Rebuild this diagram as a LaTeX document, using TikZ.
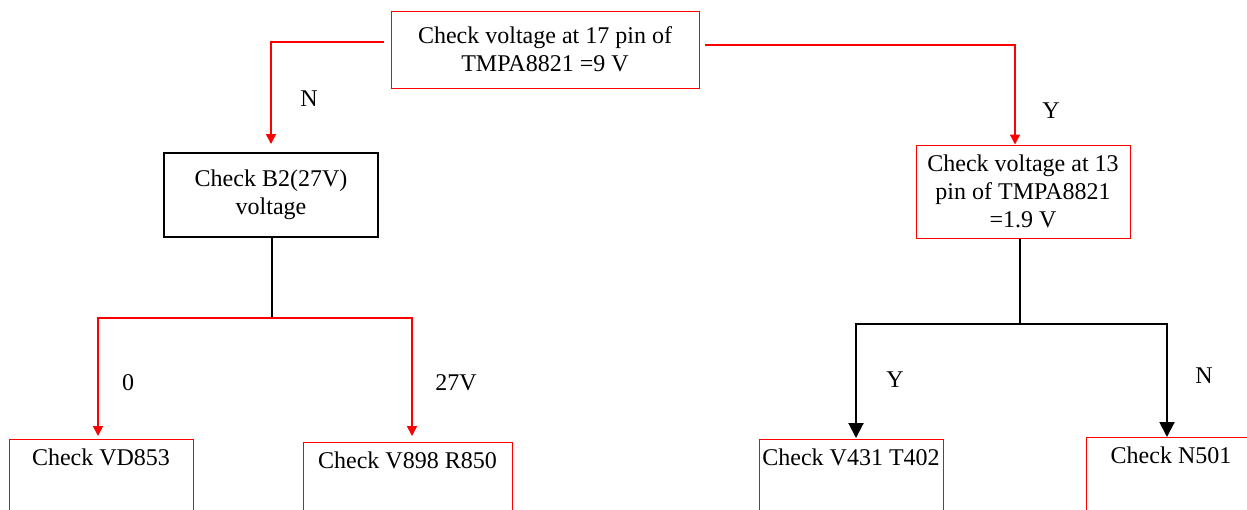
\documentclass[tikz,border=0pt]{standalone}
\usepackage{fontspec}
\setmainfont{Liberation Serif}
\usetikzlibrary{arrows.meta, positioning}

\begin{document}
\begin{tikzpicture}[x=1pt, y=-1pt, font=\fontsize{24}{28}\selectfont,
  redbox/.style={draw=red, line width=1pt, align=center, inner xsep=3pt},
  blackbox/.style={draw=black, line width=2pt, align=center, inner xsep=3pt},
  leafbox/.style={draw=red, line width=1pt, anchor=north, inner xsep=2pt,
                  inner ysep=9pt, text height=17pt, text depth=120pt},
  redarrow/.style={red, line width=1.5pt, -{Triangle[width=10pt, length=10pt]}},
  blackline/.style={black, line width=2pt},
  blackarrow/.style={black, line width=2pt, -{Triangle[width=15pt, length=15pt]}},
  branch/.style={inner sep=0pt}]

\useasboundingbox (0,0) rectangle (1247,509);
\clip (0,0) rectangle (1247,509);

% ---- Checks -------------------------------------------------------------
\node[redbox, minimum width=308, minimum height=77] (pin17) at (545,49.5)
      {Check voltage at 17 pin of\\TMPA8821 =9 V};
\node[blackbox, minimum width=214, minimum height=84] (b2) at (271,195)
      {Check B2(27V)\\voltage};
\node[redbox, minimum width=214, minimum height=93] (pin13) at (1023,191.5)
      {Check voltage at 13\\pin of TMPA8821\\=1.9 V};

% ---- Leaves (cut off at the bottom) -------------------------------------
\node[leafbox, minimum width=184] (vd853) at (101,439) {Check VD853};
\node[leafbox, minimum width=209] (v898) at (407.5,442) {Check V898 R850};
\node[leafbox, minimum width=184] (v431) at (851,439) {Check V431 T402};
\node[leafbox, minimum width=170] (n501) at (1171,437) {Check N501};

% ---- From the first check ----------------------------------------------
\draw[redarrow, shorten <=7pt, shorten >=8pt] ([yshift=7.5pt]pin17.west) -| (b2.north);
\draw[redarrow, shorten <=5pt] ([yshift=4.5pt]pin17.east) -| ([xshift=-8pt]pin13.north);
\node[branch] (nlab) at (309,99) {N};
\node[branch] (ylab) at (1051,111) {Y};

% ---- B2 voltage ---------------------------------------------------------
\coordinate (lsplit) at (272,318);
\draw[blackline] ([xshift=1pt]b2.south) -- (lsplit);
\draw[redarrow, shorten >=3pt] (lsplit) -| ([xshift=-3pt]vd853.north);
\draw[redarrow, shorten >=6pt] (lsplit) -| ([xshift=4.5pt]v898.north);
\node[branch] (zerolab) at (128,383) {0};
\node[branch] (vlab) at (456,383) {27V};

% ---- Pin 13 voltage -----------------------------------------------------
\coordinate (rsplit) at (1020,324);
\draw[blackline] ([xshift=-3pt]pin13.south) -- (rsplit);
\draw[blackarrow, shorten >=1pt] (rsplit) -| ([xshift=5pt]v431.north);
\draw[blackarrow] (rsplit) -| ([xshift=-4pt]n501.north);
\node[branch] (yslab) at (895,380) {Y};
\node[branch] (nslab) at (1204,376) {N};

\end{tikzpicture}
\end{document}
